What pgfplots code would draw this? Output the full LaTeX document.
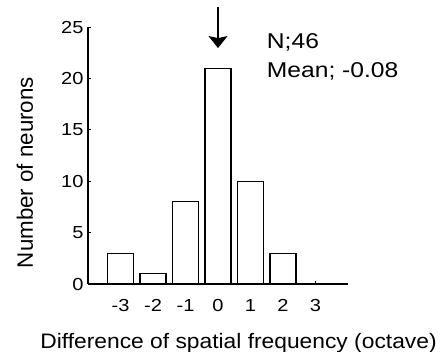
\documentclass[border=0pt]{standalone}
\usepackage{fontspec}
\setmainfont{Liberation Sans}
\newfontfamily\tickfont[FakeStretch=1.15]{Liberation Sans}
\newfontfamily\xlabfont[FakeStretch=1.09]{Liberation Sans}
\newfontfamily\notefont[FakeStretch=1.15]{Liberation Sans}
\usepackage{pgfplots}
\pgfplotsset{compat=1.18}
\usetikzlibrary{arrows.meta,calc}

\begin{document}
\begin{tikzpicture}
% fixed page frame around the axis box
\useasboundingbox (-88bp,-68bp) rectangle (352bp,284bp);
\begin{axis}[
  at={(0,0)}, anchor=south west,
  scale only axis,
  width=260bp, height=257bp,
  xmin=-4, xmax=4,
  ymin=0, ymax=25,
  axis lines*=left,
  axis line style={line width=1.1pt},
  xtick={-3,-2,-1,0,1,2,3},
  xticklabels={-3,-2,-1,0,1,2,3},
  ytick={0,5,10,15,20,25},
  tick align=inside,
  major tick length=3bp,
  tick style={black, line width=0.8pt},
  /pgf/number format/assume math mode=true,
  tick label style={font=\tickfont\fontsize{17.5}{20}\selectfont},
  xticklabel style={yshift=-12bp},
  yticklabel style={xshift=-1bp},
  xlabel={Difference of spatial frequency (octave)},
  xlabel style={at={(axis description cs:0.5,0)}, anchor=base,
    xshift=20.5bp, yshift=-64bp, font=\xlabfont\fontsize{21}{24}\selectfont},
  ylabel={Number of neurons},
  ylabel style={at={($(axis description cs:0,0)+(-55bp,111.5bp)$)},
    anchor=base, font=\fontsize{22.4}{24}\selectfont},
  clip=false,
]
% histogram counts, N = 46
\addplot[ybar, bar width=0.8, fill=white, draw=black, line width=1.1pt]
  coordinates {(-3,3) (-2,1) (-1,8) (0,21) (1,10) (2,3) (3,0)};

% arrow marking the mean, with summary text
\draw[line width=1.3pt, -{Stealth[length=12bp, width=19bp, inset=2bp]}]
  (axis cs:0,26.9) -- (axis cs:0,22.95);
\node[anchor=base west, inner sep=0pt, font=\notefont\fontsize{21.5}{24}\selectfont]
  at (axis cs:1.5,22.95) {N;46};
\node[anchor=base west, inner sep=0pt, font=\notefont\fontsize{21.5}{24}\selectfont]
  at (axis cs:1.5,20.05) {Mean; -0.08};
\end{axis}
\end{tikzpicture}
\end{document}
